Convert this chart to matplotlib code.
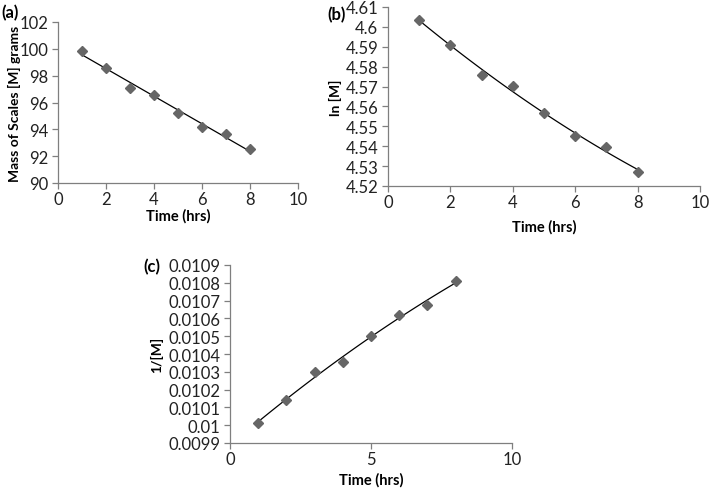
import numpy as np
import matplotlib
matplotlib.use("Agg")
import matplotlib.pyplot as plt
from matplotlib.ticker import FuncFormatter

plt.rcParams['font.family'] = ['Lato', 'DejaVu Sans']

# data
time_hrs = [1, 2, 3, 4, 5, 6, 7, 8]
mass = [99.85, 98.6, 97.1, 96.55, 95.25, 94.15, 93.65, 92.5]
ln_mass = [4.6037, 4.5911, 4.5758, 4.5701, 4.5565, 4.5449, 4.5396, 4.5272]
inv_mass = [0.010015, 0.010142, 0.010299, 0.010357, 0.010499, 0.010621, 0.010678, 0.010811]

W, H = 709, 489
fig = plt.figure(figsize=(W / 100, H / 100), dpi=100)

def px_axes(left, top, right, bottom):
    ax = fig.add_axes([left / W, 1 - bottom / H, (right - left) / W, (bottom - top) / H])
    ax.px = (left, top, right, bottom)
    return ax

def style(ax, xticks, yticks, ylabel, ylab_x, xlab_y):
    for s in ['top', 'right']:
        ax.spines[s].set_visible(False)
    for s in ['left', 'bottom']:
        ax.spines[s].set_color('#7f7f7f')
        ax.spines[s].set_linewidth(0.9)
    ax.set_xticks(xticks)
    ax.set_yticks(yticks)
    ax.set_xlim(xticks[0], xticks[-1])
    ax.set_ylim(yticks[0], yticks[-1])
    fmt = FuncFormatter(lambda v, p: '{:g}'.format(round(v, 6)))
    ax.xaxis.set_major_formatter(fmt)
    ax.yaxis.set_major_formatter(fmt)
    ax.tick_params(direction='out', length=4, width=0.9, color='#7f7f7f',
                   labelsize=12, pad=3, labelcolor='#222222')
    ax.tick_params(axis='x', pad=2)
    ax.set_xlabel('Time (hrs)', fontsize=10.5, fontweight='bold')
    ax.set_ylabel(ylabel, fontsize=10, fontweight='bold')
    l, t, r, b = ax.px
    ax.yaxis.set_label_coords((ylab_x - l) / (r - l), 0.5)
    ax.xaxis.set_label_coords(0.5, (b - xlab_y) / (b - t))
    ax.xaxis.label.set_va('center')
    ax.yaxis.label.set_va('center')

def draw(ax, y, deg):
    x = np.array(time_hrs, dtype=float)
    c = np.polyfit(x, y, deg)
    xf = np.linspace(1, 8, 100)
    ax.plot(xf, np.polyval(c, xf), color='black', lw=0.9, zorder=2)
    ax.plot(x, y, linestyle='none', marker='D', markersize=5.5,
            color='#666666', markeredgecolor='#666666', zorder=3)

# (a)
ax1 = px_axes(58, 23, 298, 184)
draw(ax1, mass, 1)
style(ax1, np.arange(0, 11, 2), np.arange(90, 103, 2), 'Mass of Scales [M] grams', 14, 216)

# (b)
ax2 = px_axes(388, 8, 700, 187)
draw(ax2, ln_mass, 2)
style(ax2, np.arange(0, 11, 2), np.round(np.arange(4.52, 4.6101, 0.01), 2), 'ln [M]', 335, 227)

# (c)
ax3 = px_axes(230, 266, 512, 444)
draw(ax3, inv_mass, 2)
style(ax3, [0, 5, 10], np.round(np.arange(0.0099, 0.01091, 0.0001), 4), '1/[M]', 157, 480)

fig.text(1 / W, 1 - 13 / H, '(a)', fontsize=12, fontweight='bold', va='center')
fig.text(327 / W, 1 - 15 / H, '(b)', fontsize=12, fontweight='bold', va='center')
fig.text(143 / W, 1 - 267 / H, '(c)', fontsize=12, fontweight='bold', va='center')

fig.savefig('out.png', dpi=100)
